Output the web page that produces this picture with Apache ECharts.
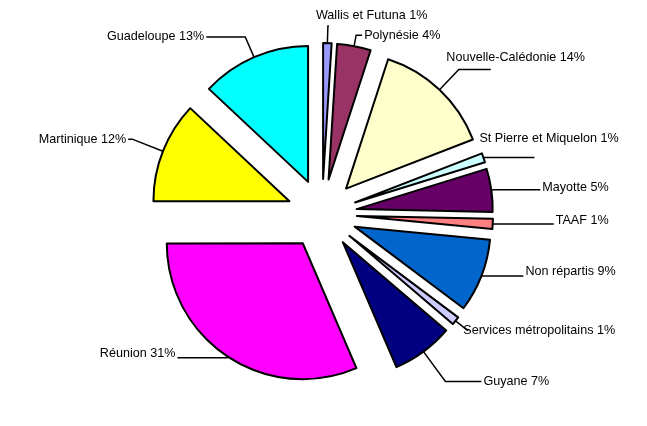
<!DOCTYPE html>
<html><head><meta charset="utf-8">
<script src="https://cdn.jsdelivr.net/npm/echarts@6/dist/echarts.min.js"></script>
<style>html,body{margin:0;padding:0;background:#fff}#c{width:647px;height:426px}</style>
</head><body><div id="c"></div>
<script>
// Slices listed counter-clockwise from 12 o'clock
const categories = ['Guadeloupe', 'Martinique', 'Réunion', 'Guyane', 'Services métropolitains', 'Non répartis', 'TAAF', 'Mayotte', 'St Pierre et Miquelon', 'Nouvelle-Calédonie', 'Polynésie', 'Wallis et Futuna'];
const shares = [13.0, 12.0, 31.4, 7.3, 1.0, 8.7, 1.2, 5.1, 1.1, 14.1, 4.0, 1.0];
const shownPct = [13, 12, 31, 7, 1, 9, 1, 5, 1, 14, 4, 1];

// styles (kept separate from data)
const colors = ['#00FFFF', '#FFFF00', '#FF00FF', '#000080', '#CCCCFF', '#0066CC', '#FF8080', '#660066', '#CCFFFF', '#FFFFCC', '#993366', '#9999FF'];
// [labelLine length, length2, distance to line, lift of text above line end]
const labelTweaks = [
  [22, 39, 2, 0],
  [33, 4, 2, 0],
  [1, 50, 2, 4],
  [37, 36, 2, 0],
  [15, 1, -5, 0],
  [1, 41, 2, 5],
  [1, 60, 2, 3],
  [2, 47, 2, 2],
  [1, 50, -55, 18.5],
  [28, 32, -44.5, 12],
  [11, 6, 2, 0],
  [17, 1, -13, 10.5]
];

const chart = echarts.init(document.getElementById('c'), null, {renderer: 'canvas'});
const data = categories.map((name, i) => {
  const t = labelTweaks[i];
  const lbl = {distanceToLabelLine: t[2]};
  if (t[3] > 0) lbl.lineHeight = 2 * t[3];
  return {
    name: name,
    value: shares[i],
    selected: true,
    itemStyle: {color: colors[i]},
    label: lbl,
    labelLine: {length: t[0], length2: t[1]}
  };
});
chart.setOption({
  animation: false,
  backgroundColor: '#fff',
  series: [{
    type: 'pie',
    center: [322, 214],
    radius: 136,
    startAngle: 90,
    clockwise: false,
    selectedMode: 'multiple',
    selectedOffset: 35,
    avoidLabelOverlap: false,
    labelLayout: {hideOverlap: false},
    itemStyle: {borderColor: '#000', borderWidth: 2},
    select: {itemStyle: {borderColor: '#000', borderWidth: 2}},
    emphasis: {disabled: true},
    label: {
      show: true, position: 'outside', color: '#000',
      fontFamily: '"Liberation Sans", Arial, sans-serif', fontSize: 12.6,
      formatter: p => p.name + ' ' + shownPct[p.dataIndex] + '%' + (labelTweaks[p.dataIndex][3] > 0 ? '\n ' : '')
    },
    labelLine: {show: true, lineStyle: {color: '#000', width: 1.5}},
    data: data
  }]
});
</script></body></html>
